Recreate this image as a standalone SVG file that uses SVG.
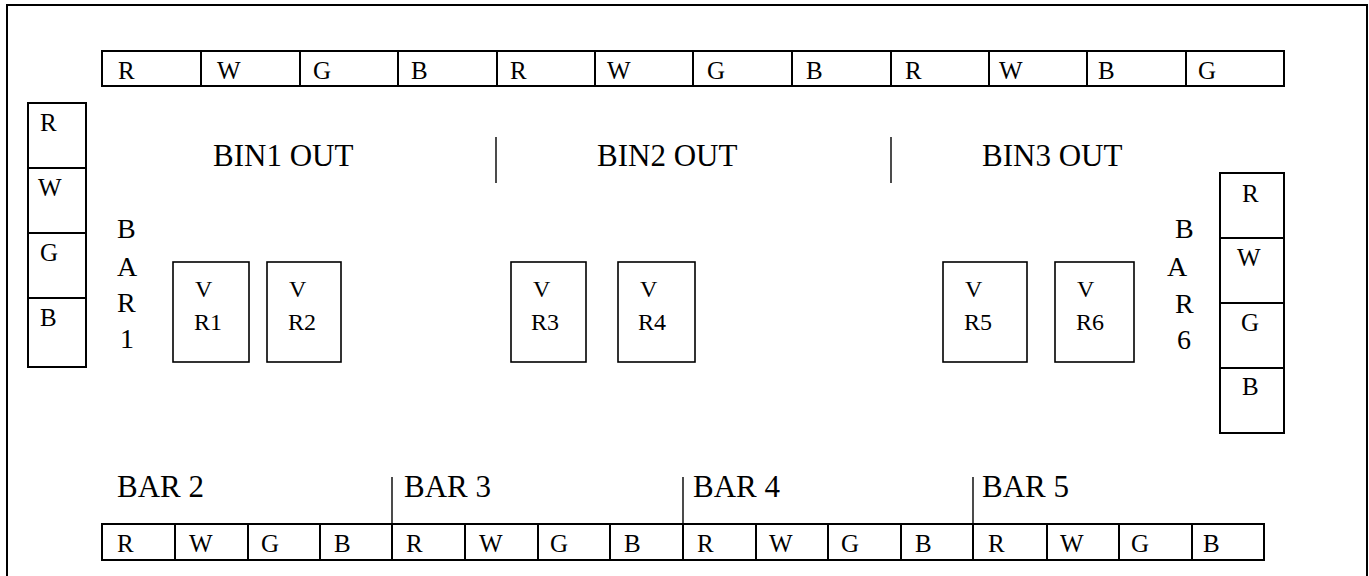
<svg xmlns="http://www.w3.org/2000/svg" width="1369" height="576" viewBox="0 0 1369 576">
  <style>
    .frame { fill: none; stroke: #000; stroke-width: 2; }
    .cell { fill: #fff; stroke: #000; stroke-width: 2; }
    .box { fill: #fff; stroke: #000; stroke-width: 1.6; }
    .sep { stroke: #000; stroke-width: 1.4; }
    .div { stroke: #000; stroke-width: 2; }
    text { font-family: "Liberation Serif", "Times New Roman", serif; fill: #000; }
    .c { font-size: 25px; }
    .big { font-size: 31px; }
    .v { font-size: 28px; }
    .vr { font-size: 24px; }
  </style>

  <rect class="frame" x="7" y="5" width="1360" height="590"/>

  <!-- top terminal strip -->
  <g id="top-strip">
    <rect class="cell" x="102" y="51" width="1182" height="35"/>
    <path class="div" d="M201 51V86M300 51V86M398 51V86M497 51V86M595 51V86M693 51V86M792 51V86M891 51V86M989 51V86M1087 51V86M1186 51V86"/>
    <g class="c">
      <text x="118" y="79">R</text>
      <text x="217" y="79">W</text>
      <text x="313" y="79">G</text>
      <text x="411" y="79">B</text>
      <text x="510" y="79">R</text>
      <text x="607" y="79">W</text>
      <text x="707" y="79">G</text>
      <text x="806" y="79">B</text>
      <text x="905" y="79">R</text>
      <text x="999" y="79">W</text>
      <text x="1098" y="79">B</text>
      <text x="1198" y="79">G</text>
    </g>
  </g>

  <!-- bin output labels -->
  <g id="bin-labels">
    <text class="big" x="213" y="166">BIN1 OUT</text>
    <text class="big" x="597" y="166">BIN2 OUT</text>
    <text class="big" x="982" y="166">BIN3 OUT</text>
    <path class="sep" d="M496 137V183M891 137V183"/>
  </g>

  <!-- left strip (BAR 1) -->
  <g id="left-strip">
    <rect class="cell" x="28" y="103" width="58" height="264"/>
    <path class="div" d="M28 168H86M28 233H86M28 298H86"/>
    <g class="c">
      <text x="40" y="131">R</text>
      <text x="38" y="196">W</text>
      <text x="40" y="261">G</text>
      <text x="40" y="326">B</text>
    </g>
  </g>

  <g id="bar1-label" class="v">
    <text x="117" y="238">B</text>
    <text x="117" y="276">A</text>
    <text x="117" y="312">R</text>
    <text x="120" y="348">1</text>
  </g>

  <!-- right strip (BAR 6) -->
  <g id="right-strip">
    <rect class="cell" x="1220" y="173" width="64" height="260"/>
    <path class="div" d="M1220 238H1284M1220 303H1284M1220 368H1284"/>
    <g class="c">
      <text x="1242" y="202">R</text>
      <text x="1237" y="266">W</text>
      <text x="1241" y="331">G</text>
      <text x="1242" y="395">B</text>
    </g>
  </g>

  <g id="bar6-label" class="v">
    <text x="1175" y="238">B</text>
    <text x="1167" y="276">A</text>
    <text x="1175" y="313">R</text>
    <text x="1177" y="349">6</text>
  </g>

  <!-- VR units -->
  <g id="vr1"><rect class="box" x="173" y="262" width="76" height="100"/><text class="vr" x="195" y="297">V</text><text class="vr" x="194" y="330">R1</text></g>
  <g id="vr2"><rect class="box" x="267" y="262" width="74" height="100"/><text class="vr" x="289" y="297">V</text><text class="vr" x="288" y="330">R2</text></g>
  <g id="vr3"><rect class="box" x="511" y="262" width="75" height="100"/><text class="vr" x="533" y="297">V</text><text class="vr" x="531" y="330">R3</text></g>
  <g id="vr4"><rect class="box" x="618" y="262" width="77" height="100"/><text class="vr" x="640" y="297">V</text><text class="vr" x="638" y="330">R4</text></g>
  <g id="vr5"><rect class="box" x="943" y="262" width="84" height="100"/><text class="vr" x="965" y="297">V</text><text class="vr" x="964" y="330">R5</text></g>
  <g id="vr6"><rect class="box" x="1055" y="262" width="79" height="100"/><text class="vr" x="1077" y="297">V</text><text class="vr" x="1076" y="330">R6</text></g>

  <!-- bottom bar labels -->
  <g id="bar-labels">
    <text class="big" x="117" y="497">BAR 2</text>
    <text class="big" x="404" y="497">BAR 3</text>
    <text class="big" x="693" y="497">BAR 4</text>
    <text class="big" x="982" y="497">BAR 5</text>
    <path class="sep" d="M392 477V524M683 477V524M973 477V524"/>
  </g>

  <!-- bottom terminal strip -->
  <g id="bottom-strip">
    <rect class="cell" x="102" y="524" width="1162" height="36"/>
    <path class="div" d="M175 524V560M248 524V560M320 524V560M392 524V560M465 524V560M538 524V560M610 524V560M683 524V560M756 524V560M828 524V560M901 524V560M973 524V560M1047 524V560M1119 524V560M1192 524V560"/>
    <g class="c">
      <text x="117" y="552">R</text>
      <text x="189" y="552">W</text>
      <text x="261" y="552">G</text>
      <text x="334" y="552">B</text>
      <text x="406" y="552">R</text>
      <text x="479" y="552">W</text>
      <text x="550" y="552">G</text>
      <text x="624" y="552">B</text>
      <text x="697" y="552">R</text>
      <text x="769" y="552">W</text>
      <text x="841" y="552">G</text>
      <text x="915" y="552">B</text>
      <text x="988" y="552">R</text>
      <text x="1060" y="552">W</text>
      <text x="1131" y="552">G</text>
      <text x="1203" y="552">B</text>
    </g>
  </g>
</svg>
